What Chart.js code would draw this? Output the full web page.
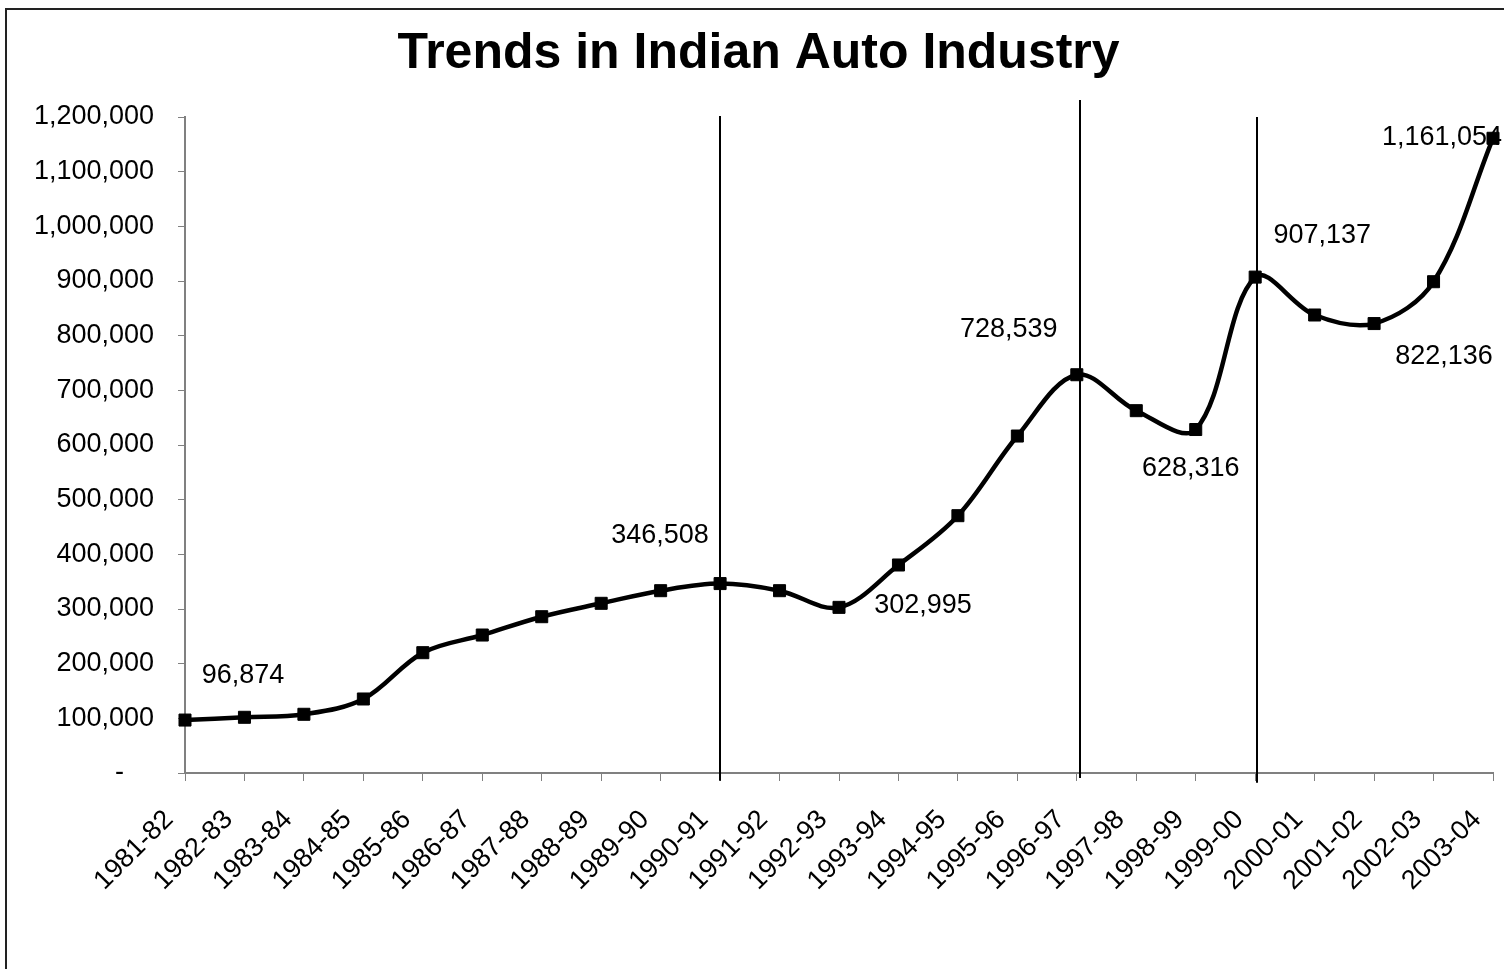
<!DOCTYPE html>
<html><head><meta charset="utf-8">
<script src="https://cdn.jsdelivr.net/npm/chart.js@4.4.1/dist/chart.umd.min.js"></script>
<style>html,body{margin:0;padding:0;background:#fff;overflow:hidden}#wrap{width:1504px;height:969px;position:relative}</style>
</head><body><div id="wrap"><canvas id="c" width="1504" height="969"></canvas></div>
<script>
const categories = ['1981-82','1982-83','1983-84','1984-85','1985-86','1986-87','1987-88','1988-89','1989-90','1990-91','1991-92','1992-93','1993-94','1994-95','1995-96','1996-97','1997-98','1998-99','1999-00','2000-01','2001-02','2002-03','2003-04'];
const production = [96874, 101900, 107400, 135400, 220100, 252400, 285900, 310400, 333500, 346508, 333500, 302995, 380500, 470700, 616400, 728539, 662800, 628316, 907137, 837800, 822136, 898700, 1161054];
const labelledIndices = [0, 9, 11, 15, 17, 18, 20, 22];
const labelOffsets = [[58,-44],[-60,-48],[84,-2],[-68,-45],[-5,39],[67,-42],[70,33],[-51,-1]];
const markerCategories = ['1990-91','1996-97','1999-00'];
const markerShift = [0, 3, 2];
const markerTop = [1202000, 1231000, 1200000];
const markerBottom = [-14000, -9000, -18000];
const yMin = 0, yMax = 1200000, yStep = 100000;

Chart.defaults.font.family = "'Liberation Sans', Arial, sans-serif";
Chart.defaults.color = '#000';

const frame = {
  id: 'frame',
  beforeDraw(chart) {
    const ctx = chart.ctx;
    ctx.save();
    ctx.fillStyle = '#fff';
    ctx.fillRect(0, 0, chart.width, chart.height);
    ctx.strokeStyle = '#222';
    ctx.lineWidth = 2;
    ctx.strokeRect(6, 9, chart.width + 20, chart.height + 20);
    ctx.restore();
  }
};

const vlines = {
  id: 'vlines',
  afterDatasetsDraw(chart) {
    const ctx = chart.ctx, xs = chart.scales.x, ys = chart.scales.y;
    ctx.save();
    ctx.strokeStyle = '#000';
    ctx.lineWidth = 2;
    markerCategories.forEach((c, i) => {
      const x = Math.round(xs.getPixelForValue(categories.indexOf(c))) + markerShift[i];
      ctx.beginPath();
      ctx.moveTo(x, ys.getPixelForValue(markerTop[i]));
      ctx.lineTo(x, ys.getPixelForValue(markerBottom[i]));
      ctx.stroke();
    });
    ctx.restore();
  }
};

const valueLabels = {
  id: 'valueLabels',
  afterDatasetsDraw(chart) {
    const ctx = chart.ctx, meta = chart.getDatasetMeta(0);
    ctx.save();
    ctx.font = "27px 'Liberation Sans', Arial, sans-serif";
    ctx.fillStyle = '#000';
    ctx.textAlign = 'center';
    ctx.textBaseline = 'middle';
    labelledIndices.forEach((idx, k) => {
      const p = meta.data[idx];
      ctx.fillText(production[idx].toLocaleString('en-US'), p.x + labelOffsets[k][0], p.y + labelOffsets[k][1]);
    });
    ctx.restore();
  }
};

new Chart(document.getElementById('c'), {
  type: 'line',
  data: {
    labels: categories,
    datasets: [{
      data: production,
      borderColor: '#000',
      backgroundColor: '#000',
      borderWidth: 4.5,
      tension: 0.35,
      pointStyle: 'rect',
      pointRadius: 8.5,
      pointBorderWidth: 1,
      pointBackgroundColor: '#000',
      pointBorderColor: '#000',
      clip: false
    }]
  },
  options: {
    responsive: false,
    devicePixelRatio: 1,
    animation: false,
    events: [],
    layout: { padding: { left: 24, right: 11, top: 0, bottom: 0 } },
    plugins: {
      legend: { display: false },
      tooltip: { enabled: false },
      title: {
        display: true,
        text: 'Trends in Indian Auto Industry',
        font: { size: 50, weight: 'bold' },
        color: '#000',
        padding: { top: 24, bottom: 33 }
      }
    },
    scales: {
      x: {
        offset: false,
        grid: { display: true, drawOnChartArea: false, drawTicks: true, tickLength: 8, color: '#808080', offset: false },
        border: { display: true, color: '#808080', width: 2 },
        ticks: {
          autoSkip: false, minRotation: 45, maxRotation: 45, padding: 7, font: { size: 27 }, color: '#000',
          callback: function(v, i) { return this.getLabelForValue(v) + '   '; }
        },
        afterFit(scale) { scale.height = 196; scale.paddingLeft = 0; scale.paddingRight = 0; }
      },
      y: {
        min: yMin, max: yMax,
        grid: { display: true, drawOnChartArea: false, drawTicks: true, tickLength: 7, color: '#808080' },
        border: { display: true, color: '#808080', width: 2 },
        ticks: {
          stepSize: yStep, padding: 24, font: { size: 27 }, color: '#000',
          callback: v => v === 0 ? '-    ' : Number(v).toLocaleString('en-US')
        },
        afterFit(scale) { scale.width = 161; }
      }
    }
  },
  plugins: [frame, vlines, valueLabels]
});
</script></body></html>
